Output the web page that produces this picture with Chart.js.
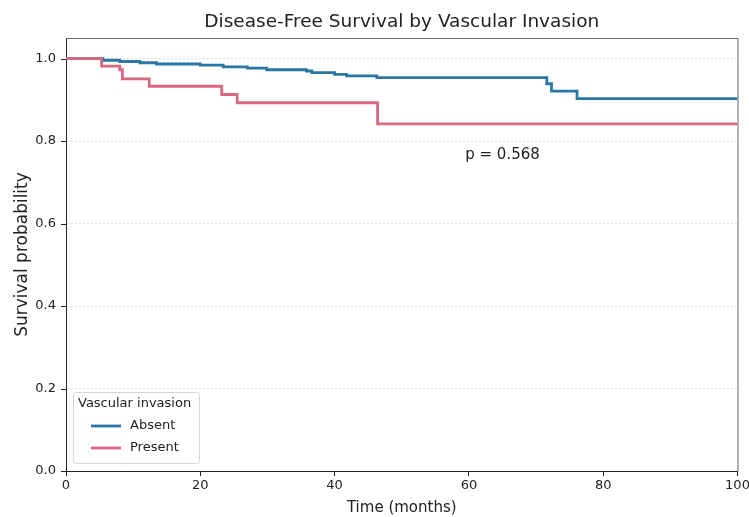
<!DOCTYPE html>
<html>
<head>
<meta charset="utf-8">
<script src="https://cdn.jsdelivr.net/npm/chart.js@4"></script>
<style>
  html, body { margin: 0; padding: 0; background: #fff; }
  #wrap { width: 749px; height: 517px; }
</style>
</head>
<body>
<div id="wrap"><canvas id="kmChart"></canvas></div>
<script>
// Kaplan-Meier estimates (months, survival probability)
var absentTime  = [0, 5.5, 8, 11, 13.5, 20, 23.4, 27, 29.9, 35.8, 36.6, 40, 41.8, 46.3, 71.6, 72.3, 76.1, 100];
var absentSurv  = [1.0, 0.996, 0.993, 0.990, 0.987, 0.984, 0.980, 0.977, 0.973, 0.970, 0.966, 0.962, 0.958, 0.954, 0.939, 0.921, 0.903, 0.903];
var presentTime = [0, 5.3, 8.0, 8.4, 12.4, 23.2, 25.5, 46.4, 100];
var presentSurv = [1.0, 0.982, 0.973, 0.951, 0.933, 0.913, 0.893, 0.842, 0.842];

var groupLabels = ['Absent', 'Present'];
var xTicks = [0, 20, 40, 60, 80, 100];
var yTicks = [0, 0.2, 0.4, 0.6, 0.8, 1.0];
var chartTitle = 'Disease-Free Survival by Vascular Invasion';
var pValue = 'p = 0.568';

var FONT = "'DejaVu Sans', 'Liberation Sans', sans-serif";

function toPoints(t, s) {
	return t.map(function (x, i) { return { x: x, y: s[i] }; });
}

// title over the plot, y tick marks, top/right spines, p-value and legend box
var extras = {
	id: 'extras',
	afterDatasetsDraw: function (chart) {
		var ctx = chart.ctx;
		var area = chart.chartArea;
		var xs = chart.scales.x, ys = chart.scales.y;
		ctx.save();

		ctx.fillStyle = '#222';
		ctx.font = '18.5px ' + FONT;
		ctx.textAlign = 'center';
		ctx.textBaseline = 'middle';
		ctx.fillText(chartTitle, (area.left + area.right) / 2, 22);

		// y tick marks
		ctx.strokeStyle = '#222';
		ctx.lineWidth = 1;
		yTicks.forEach(function (v) {
			var py = Math.round(ys.getPixelForValue(v)) + 0.5;
			ctx.beginPath();
			ctx.moveTo(area.left - 5, py);
			ctx.lineTo(area.left, py);
			ctx.stroke();
		});

		// top / right spines
		ctx.strokeStyle = '#666';
		ctx.beginPath();
		ctx.moveTo(area.left, area.top + 0.5);
		ctx.lineTo(area.right + 0.5, area.top + 0.5);
		ctx.lineTo(area.right + 0.5, area.bottom);
		ctx.stroke();

		// p-value
		ctx.fillStyle = '#222';
		ctx.font = '15px ' + FONT;
		ctx.fillText(pValue, xs.getPixelForValue(65), ys.getPixelForValue(0.765));

		// legend
		var bx = area.left + 7, by = 392, bw = 126, bh = 71;
		ctx.fillStyle = 'rgba(255,255,255,0.85)';
		ctx.strokeStyle = '#d6d6d6';
		ctx.lineWidth = 1;
		ctx.beginPath();
		ctx.roundRect(bx + 0.5, by + 0.5, bw, bh, 3);
		ctx.fill();
		ctx.stroke();

		ctx.fillStyle = '#222';
		ctx.font = '13px ' + FONT;
		ctx.textAlign = 'left';
		ctx.fillText('Vascular invasion', bx + 5, by + 12);
		chart.data.datasets.forEach(function (ds, i) {
			var ly = by + 34 + i * 22;
			ctx.strokeStyle = ds.borderColor;
			ctx.lineWidth = 2.8;
			ctx.beginPath();
			ctx.moveTo(bx + 18, ly);
			ctx.lineTo(bx + 48, ly);
			ctx.stroke();
			ctx.fillStyle = '#222';
			ctx.fillText(ds.label, bx + 57, ly);
		});

		ctx.restore();
	}
};

var context = document.getElementById('kmChart').getContext('2d');

var myChart = new Chart(context, {
	type: 'line',
	data: {
		datasets: [
			{
				label: groupLabels[0],
				data: toPoints(absentTime, absentSurv),
				borderColor: '#2b77a4',
				borderWidth: 2.8,
				stepped: 'before',
				pointRadius: 0,
				fill: false,
				order: 1
			},
			{
				label: groupLabels[1],
				data: toPoints(presentTime, presentSurv),
				borderColor: '#d8687f',
				borderWidth: 2.8,
				stepped: 'before',
				pointRadius: 0,
				fill: false,
				order: 0
			}
		]
	},
	options: {
		responsive: true,
		maintainAspectRatio: false,
		animation: false,
		events: [],
		layout: { padding: { left: 0, right: 0, top: 38, bottom: 0 } },
		plugins: {
			legend: { display: false },
			tooltip: { enabled: false },
			title: { display: false }
		},
		scales: {
			x: {
				type: 'linear',
				min: 0,
				max: 100,
				afterBuildTicks: function (scale) {
					scale.ticks = xTicks.map(function (v) { return { value: v }; });
				},
				afterFit: function (scale) {
					scale.height = 46;
					scale.paddingRight = 11.5;
				},
				ticks: {
					color: '#222',
					padding: 2,
					maxRotation: 0,
					font: { family: FONT, size: 13 }
				},
				grid: {
					drawOnChartArea: false,
					tickLength: 5,
					tickColor: '#222'
				},
				border: { color: '#222', width: 1 },
				title: {
					display: true,
					text: 'Time (months)',
					color: '#222',
					font: { family: FONT, size: 15 },
					padding: { top: 0, bottom: 0 }
				}
			},
			y: {
				min: 0,
				max: 1.05,
				afterBuildTicks: function (scale) {
					scale.ticks = yTicks.map(function (v) { return { value: v }; });
				},
				afterFit: function (scale) { scale.width = 66; },
				ticks: {
					color: '#222',
					padding: 10,
					font: { family: FONT, size: 13 },
					callback: function (v) { return Number(v).toFixed(1); }
				},
				grid: {
					drawTicks: false,
					color: '#d2d2d2',
					lineWidth: 0.8
				},
				border: { color: '#222', width: 1, dash: [2, 2] },
				title: {
					display: true,
					text: 'Survival probability',
					color: '#222',
					font: { family: FONT, size: 17 },
					padding: { top: 12, bottom: 0 }
				}
			}
		}
	},
	plugins: [extras]
});
</script>
</body>
</html>
